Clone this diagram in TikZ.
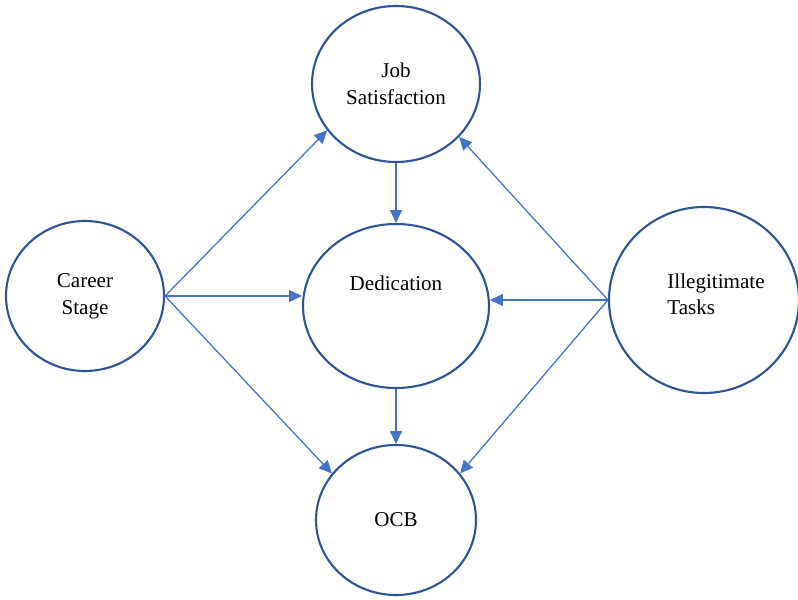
\documentclass[tikz,border=0pt]{standalone}
\usepackage{fontspec}
\setmainfont{Liberation Serif}
\usetikzlibrary{shapes.geometric,arrows.meta}
\definecolor{ringblue}{RGB}{47,84,150}
\definecolor{arrowblue}{RGB}{68,114,196}

\begin{document}
\begin{tikzpicture}[
	construct/.style={draw=ringblue, line width=1.5pt, ellipse, inner sep=0pt, align=center, font=\fontsize{15}{19}\selectfont},
	link/.style={draw=arrowblue, line width=0.9pt, -{Triangle[length=0.32cm,width=0.3cm]}}
	]
	\useasboundingbox (0,0) rectangle (19.95,14.975);
	% constructs
	\node[construct, minimum width=3.95cm, minimum height=3.75cm] (career) at (2.125,7.575) {Career\\Stage};
	\node[construct, minimum width=4.2cm, minimum height=3.9cm] (job) at (9.9,12.875) {Job\\Satisfaction};
	\node[construct, minimum width=4.65cm, minimum height=4.1cm,
		label={[yshift=0.575cm, font=\fontsize{15}{19}\selectfont]center:Dedication}] (ded) at (9.9,7.325) {};
	\node[construct, minimum width=4cm, minimum height=3.75cm] (ocb) at (9.9,1.975) {OCB};
	\node[construct, minimum width=4.75cm, minimum height=4.65cm,
		label={[xshift=0.3cm, yshift=0.14cm, align=left, font=\fontsize{15}{19}\selectfont]center:Illegitimate\\Tasks}] (ill) at (17.6,7.475) {};
	% paths
	\draw[link] (career.east) -- (job.214);
	\draw[link] (career.east) -- (career.east -| ded.west);
	\draw[link] (career.east) -- (ocb.144);
	\draw[link] (ill.west) -- (job.320);
	\draw[link] (ill.west) -- (ill.west -| ded.east);
	\draw[link] (ill.west) -- (ocb.36);
	\draw[link] (job.south) -- (ded.north);
	\draw[link] (ded.south) -- (ocb.north);
\end{tikzpicture}
\end{document}
